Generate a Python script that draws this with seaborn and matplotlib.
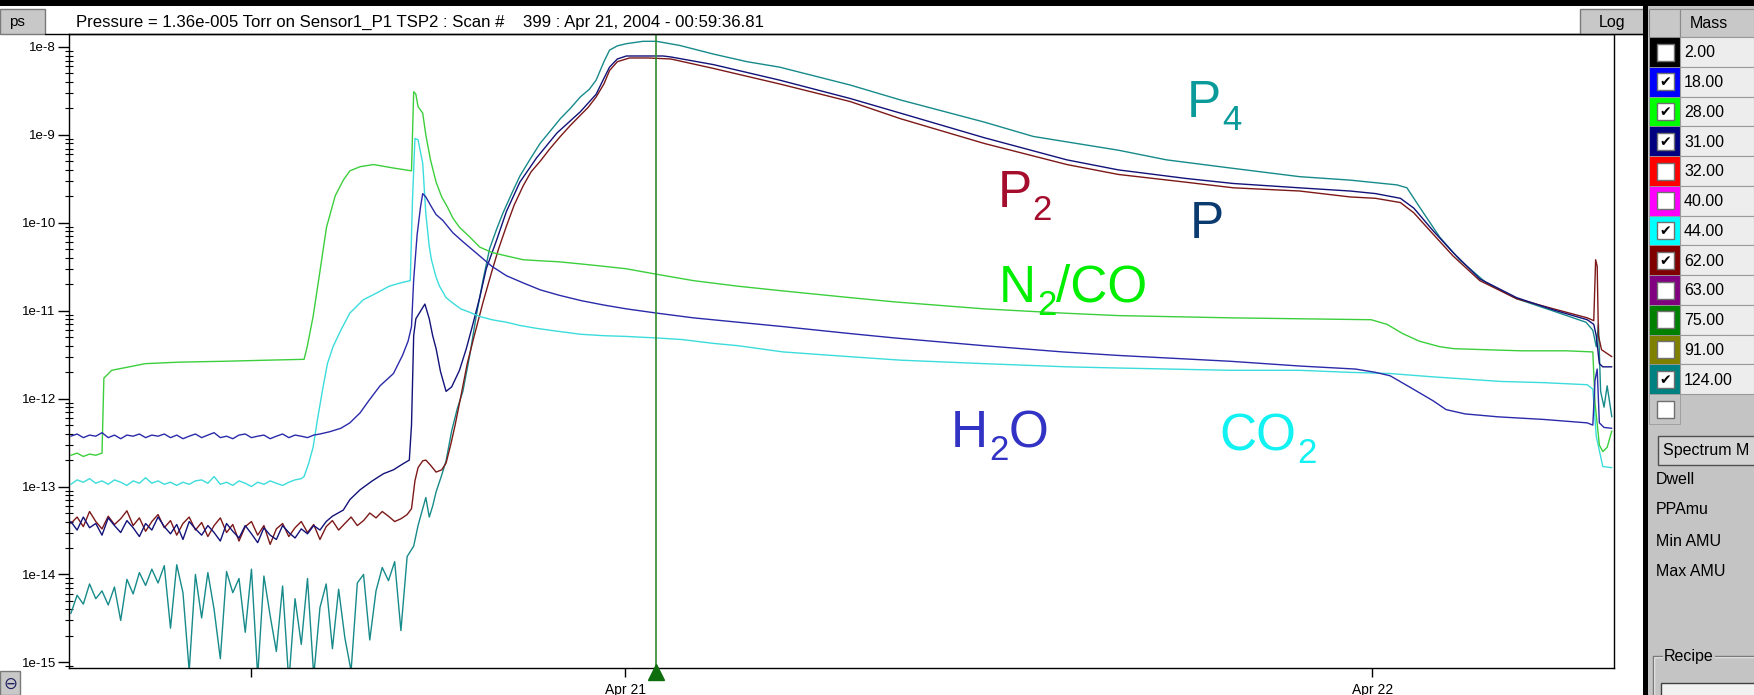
import matplotlib
matplotlib.use("Agg")
import matplotlib.pyplot as plt
import matplotlib.transforms as mtransforms
import numpy as np
import pandas as pd
import seaborn as sns
from matplotlib.patches import Rectangle
from matplotlib.ticker import FixedLocator, FixedFormatter, LogLocator, NullFormatter

# ---------------- data (hours relative to Apr 21 00:00, pressure in Torr) ----------------
base_hours = [-17.8, -17.6, -17.4, -17.2, -17.0, -16.8, -16.6, -16.4, -16.2, -16.0,
              -15.8, -15.6, -15.4, -15.2, -15.0, -14.8, -14.6, -14.4, -14.2, -14.0,
              -13.8, -13.6, -13.4, -13.2, -13.0, -12.8, -12.6, -12.4, -12.2, -12.0,
              -11.8, -11.6, -11.4, -11.2, -11.0, -10.8, -10.6, -10.4, -10.2, -10.0,
              -9.8, -9.6, -9.4, -9.2, -9.0, -8.8, -8.6, -8.4, -8.2, -8.0,
              -7.8, -7.6, -7.4, -7.2, -7.0]

# mass 124 (P4)
p4_base = [3.6e-15, 5.8e-15, 4.6e-15, 7.8e-15, 5.3e-15, 6.5e-15, 4.5e-15, 7.2e-15, 3.0e-15, 8.8e-15,
           6.0e-15, 1.05e-14, 7.5e-15, 1.15e-14, 8.0e-15, 1.26e-14, 2.45e-15, 1.29e-14, 6.2e-15, 8e-16,
           1.0e-14, 3.2e-15, 1.05e-14, 4.0e-15, 1.1e-15, 1.08e-14, 6.2e-15, 9.0e-15, 2.2e-15, 1.15e-14,
           7e-16, 9.6e-15, 3.4e-15, 1.33e-15, 7.4e-15, 6e-16, 5.3e-15, 1.6e-15, 9.0e-15, 7e-16,
           4.2e-15, 7.8e-15, 1.43e-15, 6.8e-15, 1.9e-15, 8e-16, 8.0e-15, 1.0e-14, 1.8e-15, 6.5e-15,
           1.2e-14, 8.5e-15, 1.4e-14, 2.3e-15, 1.6e-14]
p4_hours = [-6.79, -6.65, -6.50, -6.40, -6.29, -6.18, -6.07, -5.89, -5.75, -5.57, -5.39, -5.21,
            -4.99, -4.78, -4.56, -4.35, -4.13, -3.92, -3.63, -3.38, -3.05, -2.73, -2.41, -2.08,
            -1.76, -1.44, -1.15, -0.93, -0.68, -0.50, -0.25, 0.04, 0.57, 1.01, 1.76, 2.84, 3.92,
            4.96, 7.22, 8.84, 11.53, 13.11, 15.84, 17.39, 19.44, 21.66, 23.28, 24.79, 25.11,
            25.51, 26.16, 26.80, 27.66, 28.63, 29.71, 30.86, 31.08, 31.19, 31.26, 31.33, 31.44,
            31.54, 31.69]
p4_vals = [2.1e-14, 3.6e-14, 5.6e-14, 7.5e-14, 4.5e-14, 6.0e-14, 8.7e-14, 1.35e-13, 1.96e-13,
           4.3e-13, 7.7e-13, 1.21e-12, 3.1e-12, 8.8e-12, 2.26e-11, 5.1e-11, 8.4e-11, 1.3e-10,
           2.2e-10, 3.4e-10, 5.3e-10, 8.0e-10, 1.1e-9, 1.53e-9, 2.0e-9, 2.7e-9, 3.3e-9, 4.2e-9,
           6.8e-9, 9.2e-9, 1.03e-8, 1.09e-8, 1.16e-8, 1.16e-8, 1.04e-8, 8.3e-9, 6.8e-9, 5.9e-9,
           3.7e-9, 2.5e-9, 1.4e-9, 9.6e-10, 6.7e-10, 5.2e-10, 4.2e-10, 3.35e-10, 3.06e-10,
           2.7e-10, 2.5e-10, 1.52e-10, 6.9e-11, 3.8e-11, 2.07e-11, 1.37e-11, 1.02e-11, 7.4e-12,
           6.0e-12, 3.9e-12, 7.0e-12, 1.21e-12, 8.0e-13, 1.4e-12, 6.2e-13]

# mass 31 (P)
p_base = [4.0e-14, 3.2e-14, 4.5e-14, 3.4e-14, 3.8e-14, 2.8e-14, 4.4e-14, 3.6e-14, 3.0e-14, 4.1e-14,
          3.4e-14, 2.7e-14, 3.8e-14, 3.2e-14, 4.5e-14, 3.5e-14, 2.9e-14, 3.7e-14, 2.5e-14, 4.0e-14,
          3.3e-14, 2.8e-14, 3.6e-14, 3.0e-14, 2.4e-14, 3.8e-14, 3.1e-14, 2.6e-14, 3.6e-14, 2.9e-14,
          2.3e-14, 3.4e-14, 2.8e-14, 2.5e-14, 3.6e-14, 3.0e-14, 2.6e-14, 3.3e-14, 2.9e-14, 3.6e-14,
          3.2e-14, 4.0e-14, 4.6e-14]
p_hours = [-9.05, -8.84, -8.51, -8.12, -7.76, -7.44, -7.15, -6.93, -6.86, -6.79, -6.72, -6.57,
           -6.43, -6.29, -6.18, -6.07, -5.93, -5.75, -5.57, -5.32, -5.10, -4.89, -4.67, -4.46,
           -4.13, -3.81, -3.38, -2.84, -2.19, -1.44, -0.93, -0.68, -0.50, -0.25, 0.04, 1.22,
           1.47, 2.84, 4.96, 7.22, 8.84, 11.53, 14.19, 15.84, 18.00, 19.54, 21.66, 23.28, 24.10,
           24.90, 25.33, 25.94, 26.59, 27.45, 28.63, 29.82, 30.90, 31.11, 31.19, 31.29, 31.40,
           31.69]
p_vals = [5.4e-14, 7.1e-14, 9.2e-14, 1.16e-13, 1.4e-13, 1.55e-13, 1.8e-13, 2.0e-13, 5.0e-13,
          5.2e-12, 8.1e-12, 9.9e-12, 1.19e-11, 8.1e-12, 5.2e-12, 3.7e-12, 2.04e-12, 1.21e-12,
          1.36e-12, 2.1e-12, 3.7e-12, 7.0e-12, 1.41e-11, 3.0e-11, 6.3e-11, 1.35e-10, 2.9e-10,
          5.5e-10, 1.05e-9, 1.83e-9, 2.9e-9, 4.4e-9, 5.9e-9, 7.3e-9, 7.9e-9, 7.9e-9, 7.7e-9,
          6.3e-9, 4.2e-9, 2.6e-9, 1.77e-9, 9.3e-10, 5.2e-10, 4.0e-10, 3.2e-10, 2.8e-10, 2.5e-10,
          2.3e-10, 2.15e-10, 1.9e-10, 1.47e-10, 8.2e-11, 4.6e-11, 2.3e-11, 1.41e-11, 1.02e-11,
          7.9e-12, 7.0e-12, 5.2e-12, 2.5e-12, 2.3e-12, 2.3e-12]

# mass 62 (P2)
p2_base = [3.8e-14, 4.5e-14, 3.5e-14, 5.2e-14, 4.0e-14, 3.3e-14, 4.6e-14, 3.7e-14, 4.3e-14, 5.3e-14,
           3.6e-14, 4.4e-14, 3.1e-14, 4.0e-14, 4.8e-14, 3.4e-14, 4.1e-14, 2.8e-14, 3.8e-14, 4.5e-14,
           3.2e-14, 3.9e-14, 2.7e-14, 3.6e-14, 4.4e-14, 3.0e-14, 3.7e-14, 2.4e-14, 3.5e-14, 4.0e-14,
           2.8e-14, 3.6e-14, 2.2e-14, 3.3e-14, 3.8e-14, 2.7e-14, 3.4e-14, 4.0e-14, 3.0e-14, 3.7e-14,
           2.5e-14, 3.5e-14, 4.1e-14, 3.2e-14, 3.8e-14, 4.5e-14, 3.6e-14, 4.1e-14, 5.0e-14, 4.4e-14,
           5.2e-14, 4.6e-14, 4.0e-14, 4.3e-14, 4.8e-14]
p2_hours = [-6.86, -6.75, -6.65, -6.50, -6.40, -6.25, -6.07, -5.89, -5.75, -5.60, -5.46, -5.28,
            -5.07, -4.85, -4.56, -4.28, -4.06, -3.81, -3.56, -3.27, -3.02, -2.73, -2.41, -2.08,
            -1.76, -1.44, -1.19, -0.93, -0.68, -0.50, -0.25, 0.14, 0.75, 1.47, 2.84, 4.96, 7.22,
            8.84, 11.53, 14.19, 15.84, 18.00, 19.54, 21.66, 23.28, 24.10, 24.90, 25.33, 25.94,
            26.59, 27.45, 28.63, 29.82, 30.90, 31.11, 31.17, 31.22, 31.26, 31.36, 31.69]
p2_vals = [5.6e-14, 1.16e-13, 1.64e-13, 1.96e-13, 2.0e-13, 1.75e-13, 1.46e-13, 1.55e-13,
           1.85e-13, 3.0e-13, 5.0e-13, 1.04e-12, 2.5e-12, 5.1e-12, 1.26e-11, 2.8e-11, 5.1e-11,
           9.2e-11, 1.6e-10, 2.65e-10, 3.8e-10, 5.0e-10, 7.0e-10, 9.6e-10, 1.28e-9, 1.67e-9,
           2.05e-9, 2.7e-9, 3.8e-9, 5.4e-9, 6.8e-9, 7.5e-9, 7.5e-9, 7.3e-9, 5.7e-9, 3.8e-9,
           2.4e-9, 1.53e-9, 8.0e-10, 4.6e-10, 3.55e-10, 2.9e-10, 2.5e-10, 2.3e-10, 1.97e-10,
           1.9e-10, 1.7e-10, 1.3e-10, 7.5e-11, 4.2e-11, 2.2e-11, 1.37e-11, 1.05e-11, 8.3e-12,
           7.7e-12, 3.8e-11, 3.2e-11, 5.2e-12, 3.6e-12, 3.0e-12]

# mass 44 (CO2)
co2_base = [1.06e-13, 1.19e-13, 1.12e-13, 1.23e-13, 1.09e-13, 1.16e-13, 1.06e-13, 1.19e-13, 1.12e-13, 1.03e-13,
            1.16e-13, 1.09e-13, 1.26e-13, 1.09e-13, 1.16e-13, 1.06e-13, 1.12e-13, 1.03e-13, 1.12e-13, 1.06e-13,
            1.16e-13, 1.19e-13, 1.09e-13, 1.30e-13, 1.06e-13, 1.12e-13, 1.03e-13, 1.16e-13, 1.09e-13, 1.00e-13,
            1.12e-13, 1.06e-13, 1.16e-13, 1.09e-13, 1.03e-13, 1.12e-13, 1.19e-13, 1.23e-13]
co2_hours = [-10.31, -10.17, -10.02, -9.88, -9.70, -9.56, -9.38, -9.13, -8.84, -8.41, -7.98,
             -7.58, -7.22, -6.90, -6.83, -6.75, -6.65, -6.50, -6.40, -6.29, -6.22, -6.07, -5.96,
             -5.75, -5.53, -5.28, -4.99, -4.67, -4.28, -3.81, -3.38, -2.84, -2.26, -1.44, -0.68,
             0.04, 1.01, 1.83, 2.84, 3.63, 5.07, 7.22, 8.84, 11.53, 14.19, 15.84, 19.44, 21.66,
             23.28, 24.57, 25.94, 28.10, 29.50, 30.90, 31.08, 31.19, 31.40, 31.69]
co2_vals = [1.30e-13, 1.8e-13, 2.8e-13, 5.8e-13, 1.36e-12, 2.5e-12, 3.9e-12, 6.0e-12, 9.4e-12,
            1.33e-11, 1.59e-11, 1.9e-11, 2.07e-11, 2.2e-11, 1.75e-10, 9.1e-10, 8.8e-10, 4.75e-10,
            1.27e-10, 5.4e-11, 3.8e-11, 2.4e-11, 1.9e-11, 1.41e-11, 1.22e-11, 1.05e-11, 9.6e-12,
            8.6e-12, 7.9e-12, 7.4e-12, 6.8e-12, 6.3e-12, 5.9e-12, 5.4e-12, 5.2e-12, 5.1e-12,
            4.9e-12, 4.7e-12, 4.25e-12, 4.0e-12, 3.4e-12, 3.0e-12, 2.74e-12, 2.5e-12, 2.3e-12,
            2.23e-12, 2.1e-12, 2.1e-12, 1.99e-12, 1.93e-12, 1.77e-12, 1.57e-12, 1.52e-12,
            1.44e-12, 1.28e-12, 3.74e-13, 1.69e-13, 1.64e-13]

# mass 18 (H2O)
h2o_base = [3.74e-13, 3.96e-13, 3.6e-13, 3.85e-13, 3.74e-13, 4.1e-13, 3.6e-13, 3.85e-13, 3.5e-13, 3.85e-13,
            3.74e-13, 3.96e-13, 3.6e-13, 3.85e-13, 3.74e-13, 3.96e-13, 3.6e-13, 3.85e-13, 3.5e-13, 3.74e-13,
            3.96e-13, 3.6e-13, 3.85e-13, 4.1e-13, 3.6e-13, 3.74e-13, 3.5e-13, 3.85e-13, 3.96e-13, 3.6e-13,
            3.74e-13, 3.85e-13, 3.5e-13, 3.74e-13, 3.96e-13, 3.6e-13, 3.85e-13, 3.74e-13, 3.6e-13, 3.85e-13,
            3.96e-13]
h2o_hours = [-9.49, -9.13, -8.84, -8.51, -8.23, -7.87, -7.44, -7.15, -6.97, -6.86, -6.79, -6.68,
             -6.57, -6.50, -6.40, -6.22, -6.07, -5.86, -5.53, -5.21, -4.67, -4.28, -3.81, -3.27,
             -2.73, -2.12, -1.40, -0.68, 0.04, 1.01, 2.19, 3.63, 5.07, 7.22, 8.66, 11.53, 14.05,
             15.84, 19.44, 21.66, 23.46, 24.10, 24.57, 25.19, 25.94, 26.37, 26.98, 28.06, 29.50,
             30.90, 31.08, 31.15, 31.22, 31.29, 31.44, 31.69]
h2o_vals = [4.2e-13, 4.6e-13, 5.3e-13, 6.9e-13, 9.5e-13, 1.4e-12, 1.93e-12, 3.1e-12, 4.5e-12,
            6.6e-12, 2.26e-11, 7.3e-11, 1.52e-10, 2.15e-10, 1.97e-10, 1.52e-10, 1.24e-10,
            1.07e-10, 7.7e-11, 6.1e-11, 4.2e-11, 3.2e-11, 2.5e-11, 2.07e-11, 1.73e-11, 1.5e-11,
            1.3e-11, 1.16e-11, 1.05e-11, 9.4e-12, 8.3e-12, 7.4e-12, 6.6e-12, 5.5e-12, 4.9e-12,
            4.0e-12, 3.4e-12, 3.1e-12, 2.66e-12, 2.35e-12, 2.17e-12, 1.99e-12, 1.82e-12, 1.36e-12,
            9.5e-13, 7.5e-13, 6.7e-13, 6.2e-13, 5.8e-13, 5.3e-13, 5.0e-13, 1.62e-12, 2.17e-12,
            5.3e-13, 4.7e-13, 4.6e-13]

# mass 28 (N2/CO)
n2_base = [2.27e-13, 2.4e-13, 2.2e-13, 2.34e-13, 2.27e-13, 2.4e-13]
n2_hours = [-16.74, -16.49, -15.41, -14.33, -12.90, -11.46, -10.31, -10.21, -10.02, -9.84,
            -9.59, -9.31, -9.05, -8.84, -8.51, -8.08, -7.44, -6.86, -6.79, -6.72, -6.65, -6.50,
            -6.40, -6.25, -6.07, -5.89, -5.71, -5.53, -5.32, -4.99, -4.67, -4.28, -3.81, -3.27,
            -2.73, -2.12, -1.40, -0.68, 0.04, 1.01, 2.19, 3.63, 5.07, 7.22, 8.66, 11.53, 14.05,
            15.84, 19.44, 21.66, 23.96, 24.47, 24.97, 25.51, 26.16, 26.62, 27.66, 28.78, 30.22,
            31.08, 31.15, 31.29, 31.40, 31.54, 31.69]
n2_vals = [1.71e-12, 2.1e-12, 2.5e-12, 2.6e-12, 2.66e-12, 2.74e-12, 2.8e-12, 3.9e-12, 8.6e-12,
           2.26e-11, 8.9e-11, 2.03e-10, 3.06e-10, 3.9e-10, 4.35e-10, 4.6e-10, 4.2e-10, 3.9e-10,
           3.1e-9, 2.9e-9, 2.1e-9, 1.77e-9, 1.0e-9, 5.2e-10, 2.9e-10, 1.97e-10, 1.52e-10,
           1.13e-10, 8.9e-11, 6.9e-11, 5.3e-11, 4.6e-11, 4.2e-11, 3.8e-11, 3.7e-11, 3.6e-11,
           3.4e-11, 3.2e-11, 3.0e-11, 2.6e-11, 2.2e-11, 1.9e-11, 1.68e-11, 1.41e-11, 1.26e-11,
           1.05e-11, 9.4e-12, 8.8e-12, 8.3e-12, 8.1e-12, 7.9e-12, 7.0e-12, 5.5e-12, 4.5e-12,
           3.9e-12, 3.7e-12, 3.6e-12, 3.5e-12, 3.5e-12, 3.4e-12, 9.0e-13, 2.96e-13, 2.5e-13,
           2.79e-13, 4.3e-13]

series_order = ['124.00', '62.00', '31.00', '44.00', '28.00', '18.00']
line_colors = {'124.00': '#178a8a', '62.00': '#7d1818', '31.00': '#12127a',
               '44.00': '#3cdcdc', '28.00': '#3ccf3c', '18.00': '#2a2aaa'}

ytick_values = [1e-15, 1e-14, 1e-13, 1e-12, 1e-11, 1e-10, 1e-9, 1e-8]
ytick_labels = ['1e-15', '1e-14', '1e-13', '1e-12', '1e-11', '1e-10', '1e-9', '1e-8']
xtick_hours = [-12, 0, 24]
xtick_labels = ['', 'Apr 21', 'Apr 22']
cursor_hours = 0.9936  # 00:59:36.81

# species labels: pieces of (text, is_subscript)
species_parts = [[('P', 0), ('4', 1)],
                 [('P', 0), ('2', 1)],
                 [('P', 0)],
                 [('N', 0), ('2', 1), ('/CO', 0)],
                 [('H', 0), ('2', 1), ('O', 0)],
                 [('CO', 0), ('2', 1)]]
species_hours = [18.04, 11.96, 18.14, 12.0, 10.46, 19.08]
species_press = [1.6e-9, 1.52e-10, 6.7e-11, 1.26e-11, 2.8e-13, 2.6e-13]
species_colors = ['#0a9a9a', '#a50d2d', '#0b3a6e', '#00ee00', '#3232c4', '#12f2f2']

masses = ['2.00', '18.00', '28.00', '31.00', '32.00', '40.00', '44.00', '62.00',
          '63.00', '75.00', '91.00', '124.00']
mass_colors = ['#000000', '#0000ff', '#00ff00', '#000080', '#ff0000', '#ff00ff',
               '#00ffff', '#800000', '#800080', '#008000', '#808000', '#008080']
mass_checked = [False, True, True, True, False, False, True, True, False, False, False, True]
panel_fields = ['Dwell', 'PPAmu', 'Min AMU', 'Max AMU']

title = 'Pressure = 1.36e-005 Torr on Sensor1_P1 TSP2 : Scan #    399 : Apr 21, 2004 - 00:59:36.81'

# ---------------- build the long table ----------------
def build(base, hours, vals):
    return list(base_hours[:len(base)]) + list(hours), list(base) + list(vals)

frames = []
for mass, (b, h, v) in {'124.00': (p4_base, p4_hours, p4_vals),
                        '62.00': (p2_base, p2_hours, p2_vals),
                        '31.00': (p_base, p_hours, p_vals),
                        '44.00': (co2_base, co2_hours, co2_vals),
                        '28.00': (n2_base, n2_hours, n2_vals),
                        '18.00': (h2o_base, h2o_hours, h2o_vals)}.items():
    hh, vv = build(b, h, v)
    frames.append(pd.DataFrame({'hours': hh, 'pressure': vv, 'mass': mass}))
df = pd.concat(frames, ignore_index=True)

# ---------------- figure ----------------
sns.set_theme(style='ticks')
plt.rcParams['font.family'] = ['Liberation Sans', 'DejaVu Sans']

W, H = 1754, 695
fig = plt.figure(figsize=(W / 100, H / 100), dpi=100, facecolor='white')
ax = fig.add_axes([69 / W, 1 - 668 / H, (1614 - 69) / W, (668 - 33.6) / H])
ax.set_facecolor('white')

sns.lineplot(data=df, x='hours', y='pressure', hue='mass', hue_order=series_order,
             palette=line_colors, estimator=None, sort=False, legend=False,
             lw=1.0, ax=ax)
ax.set_yscale('log')
ax.set_xlim(-17.86, 31.76)
ax.set_ylim(8.63e-16, 1.42e-8)
ax.set_xlabel('')
ax.set_ylabel('')

ax.yaxis.set_major_locator(FixedLocator(ytick_values))
ax.yaxis.set_major_formatter(FixedFormatter(ytick_labels))
ax.yaxis.set_minor_locator(LogLocator(base=10, subs=np.arange(2, 10), numticks=30))
ax.yaxis.set_minor_formatter(NullFormatter())
ax.xaxis.set_major_locator(FixedLocator(xtick_hours))
ax.xaxis.set_major_formatter(FixedFormatter(xtick_labels))
ax.tick_params(axis='y', which='major', direction='out', length=8, width=1.0, pad=1.5,
               labelsize=9.5, colors='black', left=True)
ax.tick_params(axis='y', which='minor', direction='inout', length=6, width=0.8,
               colors='black', left=True)
ax.tick_params(axis='x', which='major', direction='out', length=6.5, width=1.0, pad=4,
               labelsize=10, colors='black', bottom=True)
ax.tick_params(axis='x', which='minor', bottom=False)
for s in ax.spines.values():
    s.set_visible(True)
    s.set_color('black')
    s.set_linewidth(1.0)

# cursor
ax.axvline(cursor_hours, color='#2f8a2f', lw=1.2, zorder=4)
ax.plot([cursor_hours], [-0.006], marker='^', ms=12, color='#0e6e0e', mec='#0e6e0e',
        transform=ax.get_xaxis_transform(), clip_on=False, zorder=6)

# species labels with large dropped subscripts
fig.canvas.draw()
renderer = fig.canvas.get_renderer()
main_size, sub_size, sub_drop = 37, 25, 13
for parts, hx, py, c in zip(species_parts, species_hours, species_press, species_colors):
    dx = 0.0
    for txt, is_sub in parts:
        tr = mtransforms.offset_copy(ax.transData, fig=fig, x=dx + (1 if is_sub else 0),
                                     y=-sub_drop if is_sub else 0, units='dots')
        t = ax.text(hx, py, txt, color=c, fontsize=sub_size if is_sub else main_size,
                    ha='left', va='baseline', transform=tr, zorder=7)
        dx += t.get_window_extent(renderer).width + (1 if is_sub else 0)

# ---------------- UI chrome ----------------
ui = fig.add_axes([0, 0, 1, 1], zorder=5)
ui.set_xlim(0, W)
ui.set_ylim(H, 0)
ui.set_axis_off()
ui.patch.set_alpha(0)

ui.plot([45, 1644], [33.6, 33.6], color='black', lw=1.0)
# "ps" button
ui.add_patch(Rectangle((0, 9), 45, 25, facecolor='#c8c8c8', edgecolor='#7a7a7a', lw=1))
ui.text(9, 22, 'ps', fontsize=11, va='center', ha='left', color='black')
# Log button
ui.add_patch(Rectangle((1580, 9), 64, 25, facecolor='#c8c8c8', edgecolor='#7a7a7a', lw=1))
ui.text(1612, 22, 'Log', fontsize=11.5, va='center', ha='center', color='black')
# title
ui.text(76, 22, title, fontsize=12.1, va='center', ha='left', color='black')
# bottom-left button
ui.add_patch(Rectangle((0, 671), 20, 24, facecolor='#c8c8c8', edgecolor='#7a7a7a', lw=1))
ui.text(10, 684, '⊖', fontsize=12, va='center', ha='center', color='#202060')

# right panel
ui.add_patch(Rectangle((1644, 0), W - 1644, H, facecolor='#c4c4c4', edgecolor='none'))
ui.add_patch(Rectangle((0, 0), W, 6, facecolor='black', edgecolor='none'))
ui.add_patch(Rectangle((1643, 0), 5, H, facecolor='black', edgecolor='none'))

# table header
ui.add_patch(Rectangle((1649, 9), 31, 28, facecolor='#c8c8c8', edgecolor='#8a8a8a', lw=0.8))
ui.add_patch(Rectangle((1680, 9), 74, 28, facecolor='#c8c8c8', edgecolor='#8a8a8a', lw=0.8))
ui.text(1690, 23, 'Mass', fontsize=11.5, va='center', ha='left', color='black')

row_h = 29.76
top = 37
for i in range(len(masses) + 1):
    y0 = top + i * row_h
    if i < len(masses):
        col, lab, chk = mass_colors[i], masses[i], mass_checked[i]
    else:
        col, lab, chk = '#c4c4c4', '', False
    ui.add_patch(Rectangle((1649, y0), 31, row_h, facecolor=col, edgecolor='#9a9a9a', lw=0.6))
    ui.add_patch(Rectangle((1656.5, y0 + 6.5), 17, 17, facecolor='white', edgecolor='#707070', lw=1))
    if chk:
        ui.text(1665, y0 + 15.5, '✔', fontsize=10, va='center', ha='center', color='black')
    if i < len(masses):
        ui.add_patch(Rectangle((1680, y0), 74, row_h, facecolor='#ededed', edgecolor='#9a9a9a', lw=0.8))
        ui.text(1684, y0 + row_h / 2 + 1, lab, fontsize=11.5, va='center', ha='left', color='black')

# spectrum box and fields
ui.add_patch(Rectangle((1658, 436), 100, 29, facecolor='#d4d4d4', edgecolor='#505050', lw=1))
ui.text(1663, 451, 'Spectrum M', fontsize=11.5, va='center', ha='left', color='black')
for j, f in enumerate(panel_fields):
    ui.text(1656, 479 + j * 31, f, fontsize=11.5, va='center', ha='left', color='black')
# recipe group
ui.plot([1654, 1654, W], [H, 657, 657], color='#f4f4f4', lw=1.0)
ui.plot([1653, 1653, W], [H, 656, 656], color='#7a7a7a', lw=1.0)
ui.text(1664, 657, 'Recipe', fontsize=11.5, va='center', ha='left', color='black',
        bbox=dict(facecolor='#c4c4c4', edgecolor='none', pad=1))
ui.add_patch(Rectangle((1661, 683), 100, 20, facecolor='#f2f2f2', edgecolor='#404040', lw=1))

fig.savefig('out.png', dpi=100, facecolor='white')
